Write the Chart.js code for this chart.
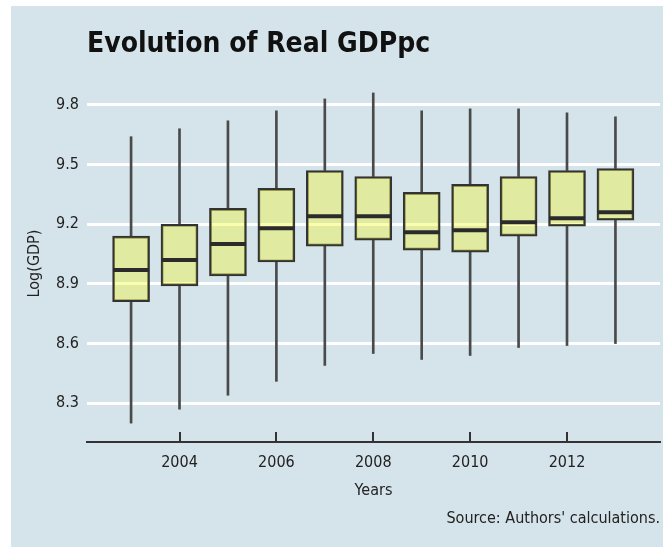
<!DOCTYPE html>
<html>
<head>
<meta charset="utf-8">
<title>Evolution of Real GDPpc</title>
<script src="https://cdn.jsdelivr.net/npm/chart.js@4/dist/chart.umd.min.js"></script>
<style>
  html, body { margin: 0; padding: 0; background: #fff; }
  #frame { position: absolute; left: 11px; top: 6px; width: 652px; height: 541px; background: rgb(213, 227, 234); }
  canvas { display: block; }
</style>
</head>
<body>
<div id="frame"><canvas id="gdpBox" width="652" height="541"></canvas></div>
<script>
// log real GDP per capita, distribution by year
const years = [2003, 2004, 2005, 2006, 2007, 2008, 2009, 2010, 2011, 2012, 2013]
const lowWhisker = [8.20, 8.27, 8.34, 8.41, 8.49, 8.55, 8.52, 8.54, 8.58, 8.59, 8.60]
const q1 = [8.81, 8.89, 8.94, 9.01, 9.09, 9.12, 9.07, 9.06, 9.14, 9.19, 9.22]
const median = [8.97, 9.02, 9.10, 9.18, 9.24, 9.24, 9.16, 9.17, 9.21, 9.23, 9.26]
const q3 = [9.14, 9.20, 9.28, 9.38, 9.47, 9.44, 9.36, 9.40, 9.44, 9.47, 9.48]
const highWhisker = [9.64, 9.68, 9.72, 9.77, 9.83, 9.86, 9.77, 9.78, 9.78, 9.76, 9.74]

const yTicks = [8.3, 8.6, 8.9, 9.2, 9.5, 9.8]
const xTicks = [2004, 2006, 2008, 2010, 2012]

const FONT = '"Liberation Sans Narrow", "DejaVu Sans Condensed", "Liberation Sans", sans-serif'
const INK = '#222'

const pairs = (lo, hi) => years.map((x, i) => ({ x: x, y: [lo[i], hi[i]] }))

const ctx = document.getElementById('gdpBox').getContext('2d')
const chart = new Chart(ctx, {
  type: 'bar',
  data: {
    datasets: [
      {
        // median bars
        type: 'line',
        data: years.map((x, i) => ({ x: x, y: median[i] })),
        showLine: false,
        pointStyle: 'line',
        pointRadius: 18,
        pointBorderWidth: 4,
        pointBorderColor: '#2b2b2b',
        order: 1,
      },
      {
        // interquartile boxes
        data: pairs(q1, q3),
        backgroundColor: 'rgba(242, 247, 41, 0.38)',
        borderColor: '#333',
        borderWidth: 2,
        borderSkipped: false,
        barThickness: 37,
        grouped: false,
        order: 2,
      },
      {
        data: pairs(lowWhisker, q1),
        backgroundColor: '#4a4a4a',
        barThickness: 2,
        grouped: false,
        order: 3,
      },
      {
        data: pairs(q3, highWhisker),
        backgroundColor: '#4a4a4a',
        barThickness: 2,
        grouped: false,
        order: 3,
      },
    ],
  },
  options: {
    responsive: false,
    animation: false,
    events: [],
    devicePixelRatio: 1,
    layout: { autoPadding: false, padding: { top: 0, right: 3, bottom: 18.8, left: 0 } },
    plugins: {
      legend: { display: false },
      tooltip: { enabled: false },
      title: {
        display: true,
        text: 'Evolution of Real GDPpc',
        align: 'start',
        fullSize: false,
        color: '#111',
        font: { family: FONT, size: 28, weight: 'bold' },
        padding: { top: 22.2, bottom: 23.2 },
      },
      subtitle: {
        display: true,
        position: 'bottom',
        text: "Source: Authors' calculations.",
        align: 'end',
        fullSize: false,
        color: INK,
        font: { family: FONT, size: 16 },
        padding: { top: 3, bottom: 0 },
      },
    },
    scales: {
      x: {
        type: 'linear',
        min: 2002.09,
        max: 2013.92,
        offset: false,
        afterBuildTicks: (scale) => {
          scale.ticks = xTicks.map((v) => ({ value: v }))
        },
        afterFit: (scale) => {
          scale.height = 64
        },
        grid: {
          offset: false,
          drawOnChartArea: false,
          drawTicks: true,
          tickLength: -10,
          color: '#333',
          lineWidth: 2,
        },
        border: { display: true, color: '#333', width: 2 },
        ticks: {
          padding: 21,
          color: INK,
          font: { family: FONT, size: 16 },
          callback: (v) => String(v),
        },
        title: {
          display: true,
          text: 'Years',
          color: INK,
          font: { family: FONT, size: 16 },
          padding: { top: 0, bottom: 6 },
        },
      },
      y: {
        type: 'linear',
        min: 8.105,
        max: 9.9,
        afterBuildTicks: (scale) => {
          scale.ticks = yTicks.map((v) => ({ value: v }))
        },
        afterFit: (scale) => {
          scale.width = 76
        },
        grid: {
          color: '#fff',
          lineWidth: 3,
          drawTicks: false,
        },
        border: { display: false },
        ticks: {
          padding: 8,
          color: INK,
          font: { family: FONT, size: 16 },
          callback: (v) => v.toFixed(1),
        },
        title: {
          display: true,
          text: 'Log(GDP)',
          color: INK,
          font: { family: FONT, size: 16 },
          padding: { top: 14, bottom: 0 },
        },
      },
    },
  },
})
</script>
</body>
</html>
